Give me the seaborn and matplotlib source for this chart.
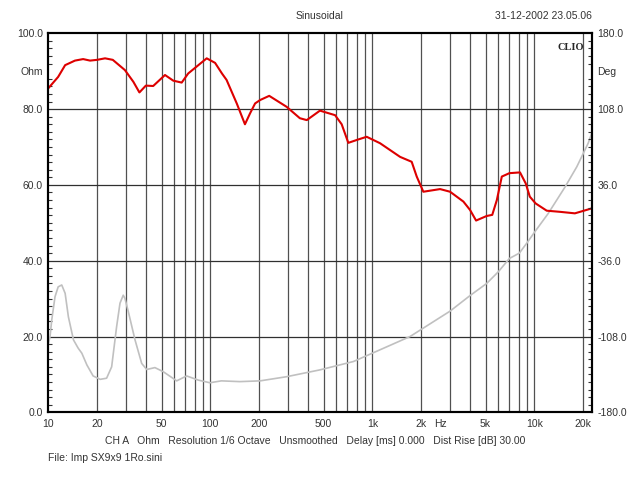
import numpy as np
import pandas as pd
import seaborn as sns
import matplotlib
matplotlib.use("Agg")
import matplotlib.pyplot as plt
from matplotlib.ticker import FixedLocator, MultipleLocator

# red curve
freq_red = [10, 11.5, 12.7, 14.6, 16.4, 18.1, 20, 22.4, 25.0, 29.7, 33.5, 36.5, 40.0, 44.4, 52.5,
            59.1, 66.6, 73.0, 95, 107, 118, 126, 145.6, 163.6, 176, 189, 203, 231, 296, 357,
            394, 475, 589, 647, 711, 820, 923, 1116, 1484, 1750, 1880, 2065, 2620, 3020,
            3650, 4010, 4370, 5080, 5500, 5870, 6300, 7020, 8160, 8850, 9380, 10200,
            11930, 14400, 17800, 22600]
val_red = [85.5, 88.5, 91.6, 92.8, 93.2, 92.8, 93.0, 93.4, 93.0, 90.3, 87.2, 84.4, 86.2, 86.1, 89.0,
           87.5, 87.0, 89.4, 93.4, 92.2, 89.4, 87.7, 81.5, 76.0, 78.9, 81.5, 82.4, 83.5, 80.6, 77.6,
           77.1, 79.6, 78.4, 76.0, 71.1, 72.0, 72.7, 71.0, 67.4, 66.1, 62.2, 58.2, 58.9, 58.2,
           55.6, 53.4, 50.6, 51.8, 52.1, 56.0, 62.2, 63.1, 63.3, 60.4, 56.9, 55.1,
           53.2, 52.9, 52.5, 53.8]

# gray curve
freq_gray = [10, 10.25, 10.5, 11.0, 11.5, 12.1, 12.7, 13.3, 14.3, 15.3, 16.1, 17.3, 18.9, 20.9,
             22.9, 24.6, 26.4, 27.7, 29.0, 29.7, 31.2, 34.3, 37.7, 40.5, 45.5, 51.3, 62, 71.4,
             84.3, 99.4, 117, 152, 203, 296, 475, 764, 1000, 1710, 3020, 4010, 5080, 6000,
             7020, 8080, 8970, 10100, 12200, 15500, 18300, 21500, 22600]
val_gray = [18.0, 20.0, 24.4, 30.5, 33.1, 33.6, 31.4, 25.2, 19.1, 16.9, 15.6, 12.5, 9.6, 8.7,
            9.0, 12.0, 22.6, 28.8, 30.9, 30.1, 26.5, 19.1, 12.9, 11.3, 11.8, 10.7, 8.3, 9.6,
            8.5, 7.8, 8.3, 8.1, 8.3, 9.4, 11.2, 13.4, 15.6, 20.0, 26.7, 30.8, 34.0, 37.1,
            40.6, 42.0, 44.6, 47.7, 52.5, 59.5, 64.8, 71.0, 73.6]

x_ticks = [10, 20, 50, 100, 200, 500, 1000, 2000, 2620, 5000, 10000, 20000]
x_labels = ["10", "20", "50", "100", "200", "500", "1k", "2k", "Hz", "5k", "10k", "20k"]
y_ticks = [0, 20, 40, 60, 80, 90, 100]
y_labels = ["0.0", "20.0", "40.0", "60.0", "80.0", "Ohm", "100.0"]
deg_ticks = [-180, -108, -36, 36, 108, 144, 180]
deg_labels = ["-180.0", "-108.0", "-36.0", "36.0", "108.0", "Deg", "180.0"]

sns.set_theme(style="white")
plt.rcParams['font.family'] = ['Liberation Sans', 'DejaVu Sans']

df_red = pd.DataFrame({'f': freq_red, 'v': val_red})
df_gray = pd.DataFrame({'f': freq_gray, 'v': val_gray})

fig = plt.figure(figsize=(6.4, 4.8), dpi=100)
ax = fig.add_axes([0.0755, 0.141, 0.849, 0.7896])

# grid lines
grid_f = [f for d in [10, 100, 1000, 10000] for f in np.arange(1, 10) * d if 10 < f <= 20000]
for f in grid_f:
    ax.axvline(f, color='#505050', lw=0.9, zorder=1)
for v in [20, 40, 60, 80]:
    ax.axhline(v, color='#303030', lw=0.9, zorder=1)

sns.lineplot(data=df_gray, x='f', y='v', color='#c0c0c0', lw=1.2, ax=ax, zorder=3)
sns.lineplot(data=df_red, x='f', y='v', color='#dd0000', lw=1.5, ax=ax, zorder=4)

ax.set_xscale('log')
ax.set_xlim(10, 22600)
ax.set_ylim(0, 100)
ax.set_xlabel('')
ax.set_ylabel('')
ax.xaxis.set_major_locator(FixedLocator(x_ticks))
ax.xaxis.set_minor_locator(FixedLocator([]))
ax.set_xticklabels(x_labels)
ax.set_yticks(y_ticks)
ax.set_yticklabels(y_labels)
ax.yaxis.set_minor_locator(MultipleLocator(2))
ax.tick_params(axis='x', which='both', length=0, pad=5, labelsize=7.5, colors='#333333')
ax.tick_params(axis='y', which='major', direction='in', length=0, pad=4, labelsize=7.5,
               colors='#333333')
ax.tick_params(axis='y', which='minor', direction='in', length=3, width=0.8, color='#333333')
for s in ax.spines.values():
    s.set_color('black')
    s.set_linewidth(1.5)

ax2 = ax.twinx()
ax2.set_ylim(-180, 180)
ax2.set_yticks(deg_ticks)
ax2.set_yticklabels(deg_labels)
ax2.yaxis.set_minor_locator(MultipleLocator(7.2))
ax2.tick_params(axis='y', which='major', direction='in', length=0, pad=4, labelsize=7.5,
                colors='#333333')
ax2.tick_params(axis='y', which='minor', direction='in', length=3, width=0.8, color='#333333')
for s in ax2.spines.values():
    s.set_color('black')
    s.set_linewidth(1.5)
ax2.grid(False)

ax.text(0.985, 0.975, 'CLIO', transform=ax.transAxes, ha='right', va='top',
        fontsize=7.5, fontweight='bold', family='Liberation Serif')

fig.text(0.5, 0.966, 'Sinusoidal', ha='center', va='center', fontsize=7.5, color='#333333')
fig.text(0.9245, 0.966, '31-12-2002 23.05.06', ha='right', va='center', fontsize=7.5,
         color='#333333')
fig.text(0.492, 0.081,
         'CH A   Ohm   Resolution 1/6 Octave   Unsmoothed   Delay [ms] 0.000   Dist Rise [dB] 30.00',
         ha='center', va='center', fontsize=7.5, color='#333333')
fig.text(0.0755, 0.045, 'File: Imp SX9x9 1Ro.sini', ha='left', va='center', fontsize=7.5,
         color='#333333')

fig.savefig('out.png', dpi=100)
